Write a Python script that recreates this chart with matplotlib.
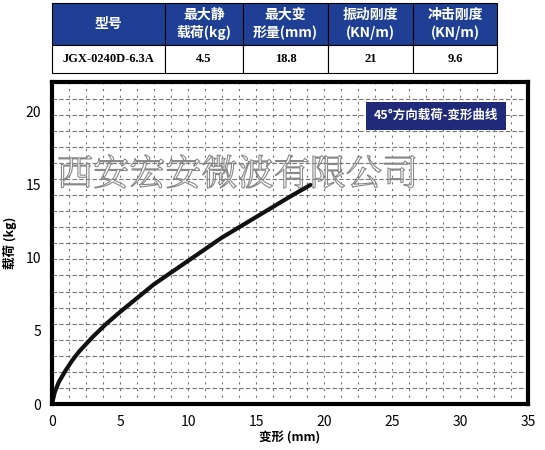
import matplotlib
matplotlib.use("Agg")
import matplotlib.pyplot as plt
import matplotlib.patheffects as pe
import numpy as np
from matplotlib.patches import Rectangle

plt.rcParams['font.family'] = ['Noto Sans CJK SC', 'DejaVu Sans']

headers = ["型号", "最大静\n载荷(kg)", "最大变\n形量(mm)", "振动刚度\n(KN/m)", "冲击刚度\n(KN/m)"]
row = ["JGX-0240D-6.3A", "4.5", "18.8", "21", "9.6"]
deform = [0, 0.2, 0.5, 1.0, 1.5, 2.0, 3.0, 4.0, 5.0, 7.5, 10.0, 12.5, 15.0, 17.5, 19.0]
load = [0, 0.8, 1.5, 2.3, 3.0, 3.6, 4.6, 5.5, 6.3, 8.2, 9.8, 11.4, 12.8, 14.2, 15.0]
xticks = [0, 5, 10, 15, 20, 25, 30, 35]
yticks = [0, 5, 10, 15, 20]

W, H = 545, 450
fig = plt.figure(figsize=(W/100, H/100), dpi=100)

tab = fig.add_axes([0, 0, 1, 1]); tab.set_xlim(0, W); tab.set_ylim(H, 0); tab.axis('off')
xs = [52, 165, 243, 328, 413, 497]
for i in range(5):
    tab.add_patch(Rectangle((xs[i], 3), xs[i+1]-xs[i], 42, fc='#1f3f95', ec='black', lw=0.8))
    tab.text((xs[i]+xs[i+1])/2, 24, headers[i], color='white', ha='center', va='center',
             fontsize=10, fontweight='bold', linespacing=1.3)
    tab.add_patch(Rectangle((xs[i], 45), xs[i+1]-xs[i], 28, fc='white', ec='black', lw=0.8))
    tab.text((xs[i]+xs[i+1])/2, 59, row[i], color='black', ha='center', va='center',
             fontsize=9, fontweight='bold', family=['Liberation Serif'])

ax = fig.add_axes([52/W, 1-404/H, 476/W, 322/H])
ax.set_xlim(0, 35); ax.set_ylim(0, 22.05)
ax.set_xticks(xticks); ax.set_yticks(yticks)
for v in np.arange(1.25, 35, 1.25):
    ax.axvline(v, color='#777777', lw=0.8, ls=(0, (2, 4)), zorder=0)
for v in np.arange(1.1, 22, 1.1):
    ax.axhline(v, color='#777777', lw=0.8, ls=(0, (4, 2)), zorder=0)
ax.plot(deform, load, color='#111111', lw=3, solid_capstyle='round')
for s in ax.spines.values():
    s.set_linewidth(3)
ax.tick_params(length=0, labelsize=10, pad=8)
ax.set_xlabel("变形 (mm)", fontsize=9, fontweight='bold', labelpad=2)
ax.set_ylabel("载荷 (kg)", fontsize=9, fontweight='bold', labelpad=6)
ax.text(0.937, 0.895, "45°方向载荷-变形曲线", transform=ax.transAxes, ha='right', va='center',
        color='white', fontsize=9, fontweight='bold',
        bbox=dict(boxstyle='square,pad=0.6', fc='#1f2a7a', ec='none'))
ax.text(0.39, 0.71, "西安宏安微波有限公司", transform=ax.transAxes, ha='center', va='center',
        fontsize=26, color='none', family=['Noto Serif CJK SC', 'Noto Sans CJK SC'],
        path_effects=[pe.withStroke(linewidth=0.8, foreground='#888888')])
fig.savefig("out.png", dpi=100)
